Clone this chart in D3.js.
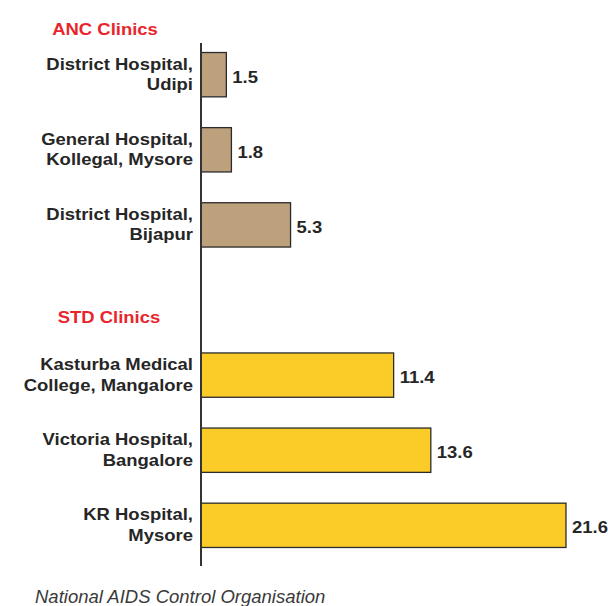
<!DOCTYPE html>
<html>
<head>
<meta charset="utf-8">
<script src="https://cdn.jsdelivr.net/npm/d3@7"></script>
<style>
  body { margin: 0; background: #fff; }
  svg text { font-family: "Liberation Sans", Arial, sans-serif; }
</style>
</head>
<body>
<div id="chart"></div>
<script>
// sites, in drawing order; the blank slot holds the "STD Clinics" heading
const sites = [
  ["District Hospital,", "Udipi"],
  ["General Hospital,", "Kollegal, Mysore"],
  ["District Hospital,", "Bijapur"],
  null,
  ["Kasturba Medical", "College, Mangalore"],
  ["Victoria Hospital,", "Bangalore"],
  ["KR Hospital,", "Mysore"]
];
const prevalence = [1.5, 1.8, 5.3, null, 11.4, 13.6, 21.6];
const groups = ["ANC", "ANC", "ANC", null, "STD", "STD", "STD"];
const groupTitles = ["ANC Clinics", "STD Clinics"];
const source = "National AIDS Control Organisation";

const width = 608, height = 606;
const x0 = 201;
const stretch = 1.12; // the original type is a touch wider than Arial

const svg = d3.select("#chart").append("svg")
  .attr("width", width).attr("height", height);

const y = d3.scaleBand()
  .domain(d3.range(sites.length))
  .range([37.5, 562.5])
  .paddingInner(0.41)
  .paddingOuter(0.2);

const x = d3.scaleLinear().domain([0, 21.6]).range([x0, 566]);

const fill = { ANC: "#bda07c", STD: "#fbcb28" };

const rows = d3.range(sites.length).filter(i => sites[i] !== null);
const mid = i => y(i) + y.bandwidth() / 2;
const at = (tx, ty) => `translate(${tx},${ty}) scale(${stretch},1)`;

// bars
svg.selectAll("rect.bar").data(rows).join("rect")
  .attr("class", "bar")
  .attr("x", x(0))
  .attr("y", i => y(i))
  .attr("width", i => x(prevalence[i]) - x(0))
  .attr("height", y.bandwidth())
  .attr("fill", i => fill[groups[i]])
  .attr("stroke", "#2b2b2b")
  .attr("stroke-width", 1.3);

// axis line
svg.append("line")
  .attr("x1", x0).attr("x2", x0)
  .attr("y1", 43).attr("y2", 566)
  .attr("stroke", "#333").attr("stroke-width", 2);

// category labels (two lines each)
const lab = svg.selectAll("text.cat").data(rows).join("text")
  .attr("class", "cat")
  .attr("transform", i => at(193, mid(i)))
  .attr("text-anchor", "end")
  .attr("font-weight", "bold")
  .attr("font-size", 16.5)
  .attr("fill", "#262626");
lab.append("tspan").attr("x", 0).attr("y", -5).text(i => sites[i][0]);
lab.append("tspan").attr("x", 0).attr("y", 15.5).text(i => sites[i][1]);

// value labels
svg.selectAll("text.val").data(rows).join("text")
  .attr("class", "val")
  .attr("transform", i => at(x(prevalence[i]) + 6, mid(i) + 8))
  .attr("font-weight", "bold")
  .attr("font-size", 16.5)
  .attr("fill", "#262626")
  .text(i => prevalence[i].toFixed(1));

// group headings
svg.append("text")
  .attr("transform", at(105, 35))
  .attr("text-anchor", "middle")
  .attr("font-weight", "bold").attr("font-size", 16.5)
  .attr("fill", "#e8252c")
  .text(groupTitles[0]);
svg.append("text")
  .attr("transform", at(109, 323))
  .attr("text-anchor", "middle")
  .attr("font-weight", "bold").attr("font-size", 16.5)
  .attr("fill", "#e8252c")
  .text(groupTitles[1]);

// source
svg.append("text")
  .attr("x", 35).attr("y", 603)
  .attr("font-style", "italic")
  .attr("font-size", 18.5)
  .attr("fill", "#3a3a3a")
  .text(source);
</script>
</body>
</html>
